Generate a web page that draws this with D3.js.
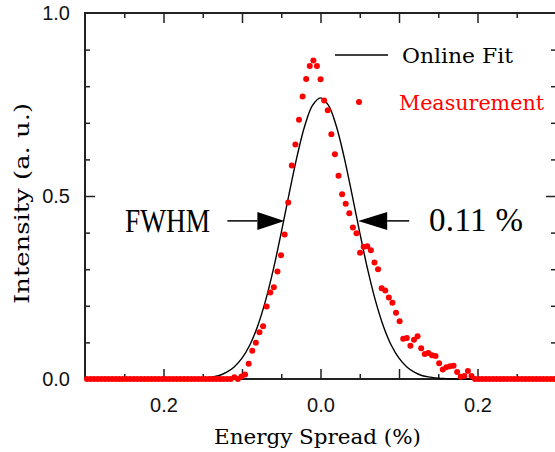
<!DOCTYPE html>
<html>
<head>
<meta charset="utf-8">
<script src="https://cdn.jsdelivr.net/npm/d3@7"></script>
<style>
  body { margin: 0; background: #fff; }
  svg { display: block; }
</style>
</head>
<body>
<div id="chart"></div>
<script>
// measured spectrum, sampled on a regular grid
const measStart = -0.2975;
const measStep = 0.004578;
const measY = [
  0, 0, 0, 0, 0, 0, 0, 0, 0, 0,
  0, 0, 0, 0, 0, 0, 0, 0, 0, 0,
  0, 0, 0, 0, 0, 0, 0, 0, 0, 0,
  0, 0, 0, 0, 0, 0, 0, 0, 0, 0,
  0, 0.005, 0, 0.007, 0.012, 0.042, 0.077, 0.099, 0.128, 0.144,
  0.198, 0.236, 0.251, 0.294, 0.338, 0.395, 0.482, 0.583, 0.641, 0.708,
  0.772, 0.820, 0.855, 0.870, 0.855, 0.819, 0.761, 0.734, 0.669, 0.614,
  0.555, 0.505, 0.479, 0.453, 0.414, 0.398, 0.345, 0.361, 0.363, 0.352,
  0.318, 0.300, 0.248, 0.242, 0.223, 0.208, 0.181, 0.158, 0.110, 0.112,
  0.091, 0.107, 0.117, 0.084, 0.068, 0.071, 0.065, 0.063, 0.043, 0.026,
  0.032, 0.035, 0.036, 0.019, 0.006, 0.008, 0.022, 0.008, 0, 0,
  0, 0, 0, 0, 0, 0, 0, 0, 0, 0,
  0, 0, 0, 0, 0, 0, 0, 0, 0, 0,
  0
];

// online fit, read every 0.01 %
const fitX = d3.range(-30, 31).map(i => i / 100);
const fitY = [
  0, 0, 0, 0, 0, 0, 0, 0, 0, 0,
  0, 0, 0, 0, 0.001, 0.002, 0.005, 0.009, 0.018, 0.033,
  0.057, 0.093, 0.145, 0.214, 0.300, 0.400, 0.506, 0.607, 0.692, 0.748,
  0.768,
  0.748, 0.692, 0.607, 0.506, 0.400, 0.300, 0.214, 0.145, 0.093, 0.057,
  0.033, 0.018, 0.009, 0.005, 0.002, 0.001, 0, 0, 0, 0,
  0, 0, 0, 0, 0, 0, 0, 0, 0, 0
];

const xLabelTicks = [-0.2, 0, 0.2];
const xMajor = [-0.2, -0.1, 0, 0.1, 0.2];
const xMinor = [-0.25, -0.15, -0.05, 0.05, 0.15, 0.25];
const yLabelTicks = [0, 0.5, 1];
const yMinor = [0.1, 0.2, 0.3, 0.4, 0.6, 0.7, 0.8, 0.9];

const fwhmLevel = 0.432;
const fwhmLeft = -0.046;
const fwhmRight = 0.048;

const W = 555, H = 452;
const margin = { top: 13, right: -1, bottom: 73, left: 85 };
const width = W - margin.left - margin.right;
const height = H - margin.top - margin.bottom;

const svg = d3.select("#chart").append("svg")
  .attr("width", W)
  .attr("height", H);

const x = d3.scaleLinear().domain([-0.3, 0.3]).range([margin.left, margin.left + width]);
const y = d3.scaleLinear().domain([0, 1]).range([margin.top + height, margin.top]);

const slab = "'DejaVu Serif', 'Liberation Serif', serif";
const serif = "'Liberation Serif', 'Times New Roman', serif";
const sans = "'Liberation Sans', Arial, sans-serif";

// frame
svg.append("rect")
  .attr("x", margin.left)
  .attr("y", margin.top)
  .attr("width", width)
  .attr("height", height)
  .attr("fill", "none")
  .attr("stroke", "#222")
  .attr("stroke-width", 2);

function tickAxis(axis, tr) {
  const g = svg.append("g").attr("transform", tr).call(axis);
  g.select(".domain").remove();
  g.selectAll("line").attr("stroke", "#222").attr("stroke-width", 1.5);
  return g;
}

const bottomY = margin.top + height;
const rightX = margin.left + width;

// inward ticks on all four sides
tickAxis(d3.axisTop(x).tickValues(xMajor).tickSize(10).tickFormat(""), `translate(0,${bottomY})`);
tickAxis(d3.axisTop(x).tickValues(xMinor).tickSize(5).tickFormat(""), `translate(0,${bottomY})`);
tickAxis(d3.axisBottom(x).tickValues(xMajor).tickSize(10).tickFormat(""), `translate(0,${margin.top})`);
tickAxis(d3.axisBottom(x).tickValues(xMinor).tickSize(5).tickFormat(""), `translate(0,${margin.top})`);
tickAxis(d3.axisRight(y).tickValues([0.5]).tickSize(10).tickFormat(""), `translate(${margin.left},0)`);
tickAxis(d3.axisRight(y).tickValues(yMinor).tickSize(5).tickFormat(""), `translate(${margin.left},0)`);
tickAxis(d3.axisLeft(y).tickValues([0.5]).tickSize(10).tickFormat(""), `translate(${rightX},0)`);
tickAxis(d3.axisLeft(y).tickValues(yMinor).tickSize(5).tickFormat(""), `translate(${rightX},0)`);

// tick labels
const xl = svg.append("g")
  .attr("transform", `translate(0,${bottomY})`)
  .call(d3.axisBottom(x).tickValues(xLabelTicks).tickSize(0).tickPadding(19)
    .tickFormat(d => Math.abs(d).toFixed(1)));
xl.select(".domain").remove();
xl.selectAll("text").style("font-family", sans).style("font-size", "20px").attr("fill", "#111");

const yl = svg.append("g")
  .attr("transform", `translate(${margin.left},0)`)
  .call(d3.axisLeft(y).tickValues(yLabelTicks).tickSize(0).tickPadding(15)
    .tickFormat(d3.format(".1f")));
yl.select(".domain").remove();
yl.selectAll("text").style("font-family", sans).style("font-size", "20px").attr("fill", "#111");

// axis titles
svg.append("text")
  .attr("x", 214)
  .attr("y", 444)
  .attr("textLength", 207)
  .attr("lengthAdjust", "spacingAndGlyphs")
  .style("font-family", slab)
  .style("font-size", "20px")
  .text("Energy Spread (%)");

svg.append("text")
  .attr("transform", "translate(29,304) rotate(-90)")
  .attr("textLength", 201)
  .attr("lengthAdjust", "spacingAndGlyphs")
  .style("font-family", slab)
  .style("font-size", "20px")
  .text("Intensity (a. u.)");

// fit line
const line = d3.line()
  .x((d, i) => x(fitX[i]))
  .y(d => y(d))
  .curve(d3.curveCatmullRom);

svg.append("path")
  .datum(fitY)
  .attr("d", line)
  .attr("fill", "none")
  .attr("stroke", "#000")
  .attr("stroke-width", 1.4);

// measurement dots
svg.append("g")
  .selectAll("circle")
  .data(measY)
  .enter()
  .append("circle")
  .attr("cx", (d, i) => x(measStart + i * measStep))
  .attr("cy", d => y(d))
  .attr("r", 3)
  .attr("fill", "#ff0000");

// legend
svg.append("line")
  .attr("x1", 335).attr("x2", 388)
  .attr("y1", 55).attr("y2", 55)
  .attr("stroke", "#000")
  .attr("stroke-width", 1.4);

svg.append("text")
  .attr("x", 402)
  .attr("y", 63)
  .attr("textLength", 111)
  .attr("lengthAdjust", "spacingAndGlyphs")
  .style("font-family", slab)
  .style("font-size", "20px")
  .text("Online Fit");

svg.append("circle")
  .attr("cx", 359)
  .attr("cy", 102)
  .attr("r", 3)
  .attr("fill", "#ff0000");

svg.append("text")
  .attr("x", 399)
  .attr("y", 110)
  .attr("textLength", 145)
  .attr("lengthAdjust", "spacingAndGlyphs")
  .attr("fill", "#ff0000")
  .style("font-family", slab)
  .style("font-size", "20px")
  .text("Measurement");

// FWHM arrows
const ay = y(fwhmLevel);
const lt = x(fwhmLeft);
const rt = x(fwhmRight);

svg.append("line")
  .attr("x1", lt - 57).attr("x2", lt - 27)
  .attr("y1", ay).attr("y2", ay)
  .attr("stroke", "#000").attr("stroke-width", 1.5);
svg.append("path")
  .attr("d", `M${lt},${ay} L${lt - 27},${ay - 9} L${lt - 27},${ay + 9} Z`)
  .attr("fill", "#000");

svg.append("line")
  .attr("x1", rt + 29).attr("x2", rt + 51)
  .attr("y1", ay).attr("y2", ay)
  .attr("stroke", "#000").attr("stroke-width", 1.5);
svg.append("path")
  .attr("d", `M${rt},${ay} L${rt + 29},${ay - 9} L${rt + 29},${ay + 9} Z`)
  .attr("fill", "#000");

svg.append("text")
  .attr("x", 125)
  .attr("y", 232)
  .attr("textLength", 85)
  .attr("lengthAdjust", "spacingAndGlyphs")
  .style("font-family", serif)
  .style("font-size", "33px")
  .text("FWHM");

svg.append("text")
  .attr("x", 429)
  .attr("y", 231)
  .attr("textLength", 94)
  .attr("lengthAdjust", "spacing")
  .style("font-family", serif)
  .style("font-size", "33px")
  .text("0.11 %");
</script>
</body>
</html>
